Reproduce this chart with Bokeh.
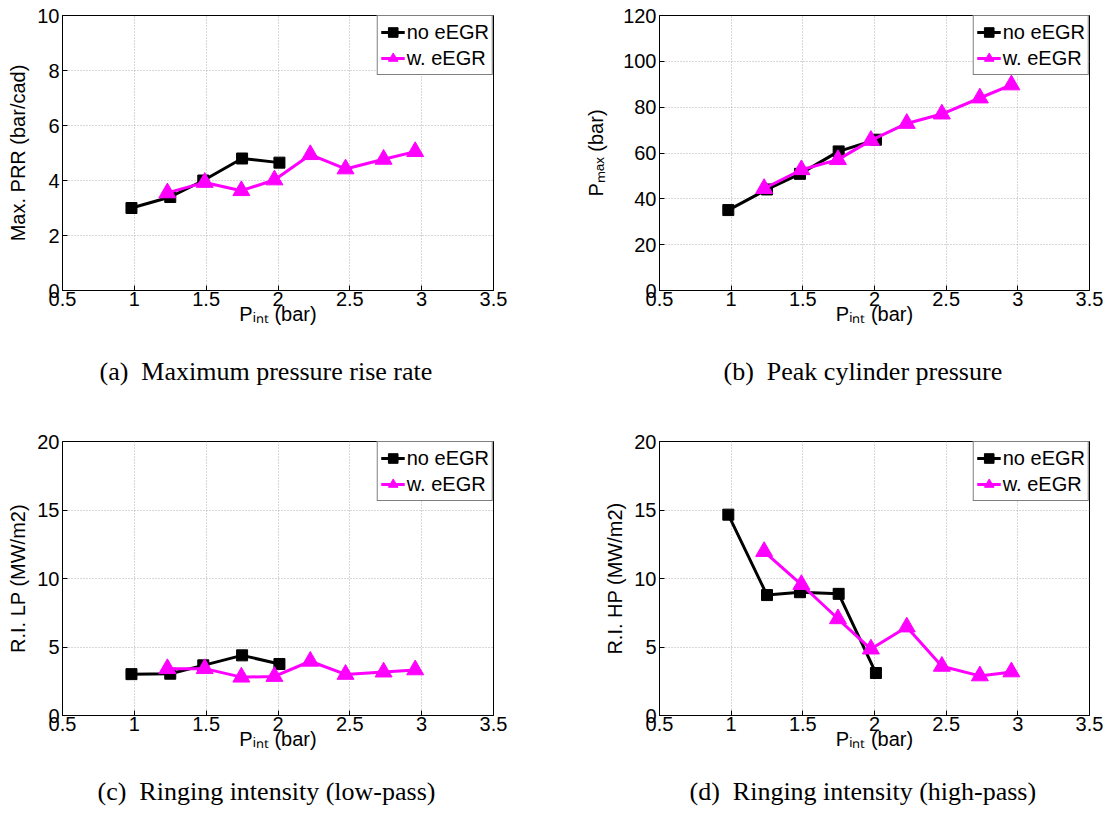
from bokeh.plotting import figure
from bokeh.models import (Range1d, FixedTicker, Legend, LegendItem,
                          NumeralTickFormatter, Title)
from bokeh.layouts import column, row
from bokeh.embed import file_html
from bokeh.resources import INLINE

# ---------------- data ----------------
P_INT_NO = [0.98, 1.25, 1.48, 1.75, 2.01]
P_INT_W = [1.23, 1.49, 1.745, 1.975, 2.225, 2.47, 2.735, 2.955]

PRR_NO = [3.0, 3.4, 4.0, 4.8, 4.65]
PRR_W = [3.55, 3.93, 3.63, 4.02, 4.94, 4.42, 4.77, 5.05]

PMAX_NO = [35.1, 44.1, 50.9, 60.7, 65.8]
PMAX_W = [44.5, 52.7, 57.1, 65.5, 72.9, 77.0, 84.0, 89.7]

RI_LP_NO = [3.02, 3.05, 3.66, 4.39, 3.76]
RI_LP_W = [3.42, 3.42, 2.8, 2.85, 3.96, 3.0, 3.17, 3.33]

RI_HP_NO = [14.66, 8.79, 9.0, 8.88, 3.1]
RI_HP_W = [11.97, 9.56, 7.06, 4.85, 6.46, 3.59, 2.89, 3.18]

X_TICKS = [0.5, 1.0, 1.5, 2.0, 2.5, 3.0, 3.5]
Y_TICKS_PRR = [0, 2, 4, 6, 8, 10]
Y_TICKS_PMAX = [0, 20, 40, 60, 80, 100, 120]
Y_TICKS_RI = [0, 5, 10, 15, 20]

SERIES_LABELS = ["no eEGR", "w. eEGR"]
X_LABEL = "P\u1d62\u2099\u209c (bar)"
Y_LABELS = ["Max. PRR (bar/cad)", "P\u2098\u2090\u2093 (bar)",
            "R.I. LP (MW/m2)", "R.I. HP (MW/m2)"]
CAPTIONS = ["(a)\u2002Maximum pressure rise rate",
            "(b)\u2002Peak cylinder pressure",
            "(c)\u2002Ringing intensity (low-pass)",
            "(d)\u2002Ringing intensity (high-pass)"]

SANS = "Liberation Sans"
SERIF = "Liberation Serif"
FS = "20px"


def make_panel(y_no, y_w, y_ticks, ylabel, ylabel_standoff, caption, cap_offset,
               cap_standoff, left, right, top, bottom, fw, fh):
    p = figure(frame_width=fw, frame_height=fh,
               min_border_left=left, min_border_right=right,
               min_border_top=top, min_border_bottom=bottom,
               x_range=Range1d(0.5, 3.5), y_range=Range1d(y_ticks[0], y_ticks[-1]),
               output_backend="svg", toolbar_location=None, tools="")
    p.outline_line_color = "black"
    p.outline_line_width = 1
    xt = FixedTicker(ticks=X_TICKS)
    yt = FixedTicker(ticks=y_ticks)
    p.xaxis.ticker = xt
    p.yaxis.ticker = yt
    p.xgrid.ticker = xt
    p.ygrid.ticker = yt
    for ax in (p.xaxis[0], p.yaxis[0]):
        ax.formatter = NumeralTickFormatter(format="0.[0]")
        ax.major_tick_in = 5
        ax.major_tick_out = 0
        ax.minor_tick_line_color = None
        ax.axis_line_color = "black"
        ax.major_tick_line_color = "black"
        ax.major_label_text_font = SANS
        ax.major_label_text_font_size = FS
        ax.major_label_text_color = "black"
        ax.axis_label_text_font = SANS
        ax.axis_label_text_font_size = FS
        ax.axis_label_text_font_style = "normal"
        ax.axis_label_text_color = "black"
    p.xaxis.major_label_standoff = 1
    p.yaxis.major_label_standoff = 3
    p.xaxis.axis_label = X_LABEL
    p.xaxis.axis_label_standoff = -6
    p.yaxis.axis_label = ylabel
    p.yaxis.axis_label_standoff = ylabel_standoff
    p.grid.grid_line_color = "#b0b0b0"
    p.grid.grid_line_dash = "1 2"
    p.grid.grid_line_width = 1

    l1 = p.line(P_INT_NO, y_no, line_color="black", line_width=3)
    s1 = p.scatter(P_INT_NO, y_no, marker="square", size=11,
                   fill_color="black", line_color="black")
    l2 = p.line(P_INT_W, y_w, line_color="#ff00ff", line_width=3)
    s2 = p.scatter(P_INT_W, y_w, marker="triangle", size=17,
                   fill_color="#ff00ff", line_color="#ff00ff")

    legend = Legend(items=[LegendItem(label=SERIES_LABELS[0], renderers=[l1, s1]),
                           LegendItem(label=SERIES_LABELS[1], renderers=[l2, s2])],
                    location="top_right", margin=0, padding=3, spacing=0,
                    border_line_color="black", border_line_width=1,
                    background_fill_color="white", background_fill_alpha=1,
                    label_text_font=SANS, label_text_font_size=FS,
                    label_text_color="black",
                    glyph_width=24, glyph_height=26, label_height=26,
                    label_standoff=2)
    p.add_layout(legend)

    p.add_layout(Title(text=caption, align="left", offset=cap_offset,
                       standoff=cap_standoff,
                       text_font=SERIF, text_font_size="26px",
                       text_font_style="normal", text_color="black"), "below")
    return p


pa = make_panel(PRR_NO, PRR_W, Y_TICKS_PRR, Y_LABELS[0], 5, CAPTIONS[0], 37, 54,
                62, 62, 15, 128, 431, 275)
pb = make_panel(PMAX_NO, PMAX_W, Y_TICKS_PMAX, Y_LABELS[1], 13, CAPTIONS[1], 64, 54,
                104, 20, 15, 128, 430, 275)
pc = make_panel(RI_LP_NO, RI_LP_W, Y_TICKS_RI, Y_LABELS[2], 5, CAPTIONS[2], 35, 44,
                62, 62, 23, 90, 431, 274)
pd = make_panel(RI_HP_NO, RI_HP_W, Y_TICKS_RI, Y_LABELS[3], 5, CAPTIONS[3], 30, 44,
                104, 20, 23, 90, 430, 274)

layout = column(row(pa, pb), row(pc, pd))
open("out.html", "w").write(file_html(layout, INLINE))
